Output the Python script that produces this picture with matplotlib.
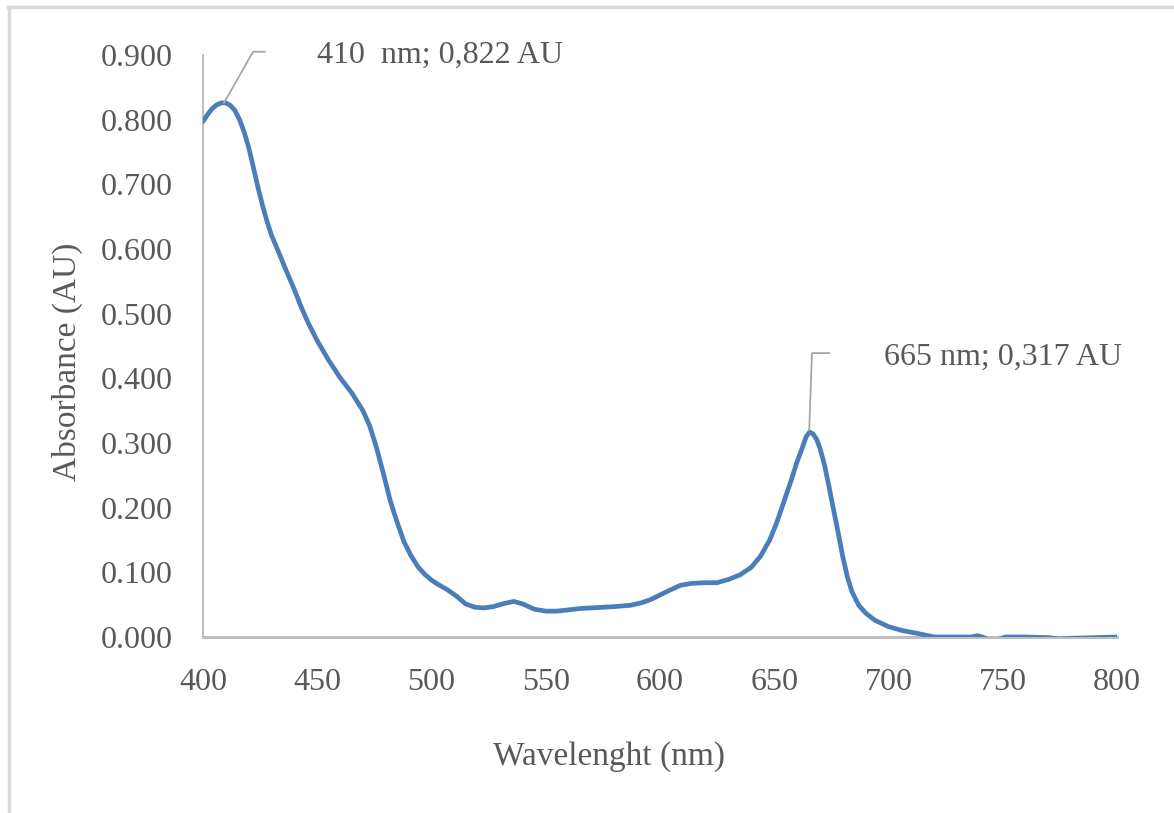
import matplotlib
matplotlib.use("Agg")
import matplotlib.pyplot as plt
from matplotlib.lines import Line2D

# spectrum
wavelength = [400, 402, 404, 406, 408, 410, 412, 414, 416, 418, 420, 422, 424, 426,
              428, 430, 433, 436, 440, 443, 446, 450, 455, 460, 465, 470, 473, 476,
              479, 482, 485, 488, 491, 494, 497, 500, 503, 507, 511, 515, 519, 523,
              527, 532, 536, 540, 545, 550, 555, 560, 565, 570, 575, 580, 587, 592,
              596, 600, 604, 609, 614, 620, 625, 630, 635, 640, 644, 648, 651, 654,
              657, 660, 662, 664, 665.5, 667, 668.5, 670, 672, 674, 676, 678, 680, 682,
              684, 687, 690, 694, 700, 706, 712, 716, 720, 725, 730, 736, 739, 741,
              744, 748, 751, 760, 770, 775, 780, 790, 800]
absorbance = [0.797, 0.808, 0.817, 0.823, 0.826, 0.826, 0.822, 0.814, 0.800, 0.781,
              0.757, 0.727, 0.696, 0.668, 0.643, 0.621, 0.596, 0.570, 0.537, 0.510,
              0.486, 0.458, 0.428, 0.401, 0.378, 0.350, 0.326, 0.292, 0.252, 0.210,
              0.177, 0.147, 0.126, 0.109, 0.097, 0.088, 0.081, 0.073, 0.063, 0.051,
              0.046, 0.045, 0.047, 0.052, 0.055, 0.051, 0.043, 0.040, 0.040, 0.042,
              0.044, 0.045, 0.046, 0.047, 0.049, 0.053, 0.058, 0.065, 0.072, 0.080,
              0.083, 0.084, 0.084, 0.089, 0.096, 0.108, 0.125, 0.150, 0.176, 0.207,
              0.238, 0.271, 0.290, 0.310, 0.317, 0.314, 0.306, 0.292, 0.266, 0.232,
              0.196, 0.161, 0.124, 0.093, 0.070, 0.049, 0.037, 0.026, 0.016, 0.010,
              0.006, 0.003, 0.000, 0.000, 0.000, 0.000, 0.002, 0.000, -0.004, -0.004,
              0.000, 0.000, -0.001, -0.003, -0.002, -0.001, 0.000]

peak_labels = ["410  nm; 0,822 AU", "665 nm; 0,317 AU"]

x_ticks = [400, 450, 500, 550, 600, 650, 700, 750, 800]
y_ticks = [0.0, 0.1, 0.2, 0.3, 0.4, 0.5, 0.6, 0.7, 0.8, 0.9]

FONT = "Liberation Serif"
GREY_TXT = "#595959"
GREY_AX = "#BFBFBF"
BLUE = "#4A7EBB"

fig = plt.figure(figsize=(11.74, 8.13), dpi=100)
ax = fig.add_axes([203/1174, 1-637/813, (1117-203)/1174, (637-55)/813])

ax.plot(wavelength, absorbance, color=BLUE, lw=3.4, solid_capstyle="round",
        solid_joinstyle="round", zorder=3)

ax.set_xlim(400, 800)
ax.set_ylim(0, 0.9)
ax.set_xticks(x_ticks)
ax.set_yticks(y_ticks)
ax.set_xticklabels([str(v) for v in x_ticks])
ax.set_yticklabels(["%.3f" % v for v in y_ticks])
ax.tick_params(length=0, labelsize=23, labelcolor=GREY_TXT)
ax.tick_params(axis="y", pad=22)
ax.tick_params(axis="x", pad=22)
for lab in ax.get_xticklabels() + ax.get_yticklabels():
    lab.set_family(FONT)

for s in ["top", "right"]:
    ax.spines[s].set_visible(False)
ax.spines["left"].set_color(GREY_AX)
ax.spines["left"].set_linewidth(1.5)
ax.spines["bottom"].set_color(GREY_AX)
ax.spines["bottom"].set_linewidth(2.2)

# data labels with leader lines (Excel style)
leaders = [([409.2, 421.9, 427.0], [0.826, 0.905, 0.905]),
           ([665.3, 666.5, 674.0], [0.320, 0.439, 0.439])]
label_pos = [(450.0, 0.900), (698.0, 0.433)]
for (lx, ly), (tx, ty), txt in zip(leaders, label_pos, peak_labels):
    ax.plot(lx, ly, color="#A6A6A6", lw=1.3, clip_on=False, zorder=4)
    ax.text(tx, ty, txt, family=FONT, fontsize=23, color=GREY_TXT,
            ha="left", va="center")

fig.text(609/1174, 1-757/813, "Wavelenght (nm)", family=FONT, fontsize=24,
         color=GREY_TXT, ha="center", va="center")
fig.text(67/1174, 1-362/813, "Absorbance (AU)", family=FONT, fontsize=24,
         color=GREY_TXT, ha="center", va="center", rotation=90)

# chart-area border (only top and left visible)
fig.add_artist(Line2D([8/1174, 1], [1-7.5/813, 1-7.5/813], color="#D9D9D9", lw=2.5))
fig.add_artist(Line2D([8.5/1174, 8.5/1174], [0, 1-7.5/813], color="#D9D9D9", lw=2.5))

fig.savefig("out.png", dpi=100)
